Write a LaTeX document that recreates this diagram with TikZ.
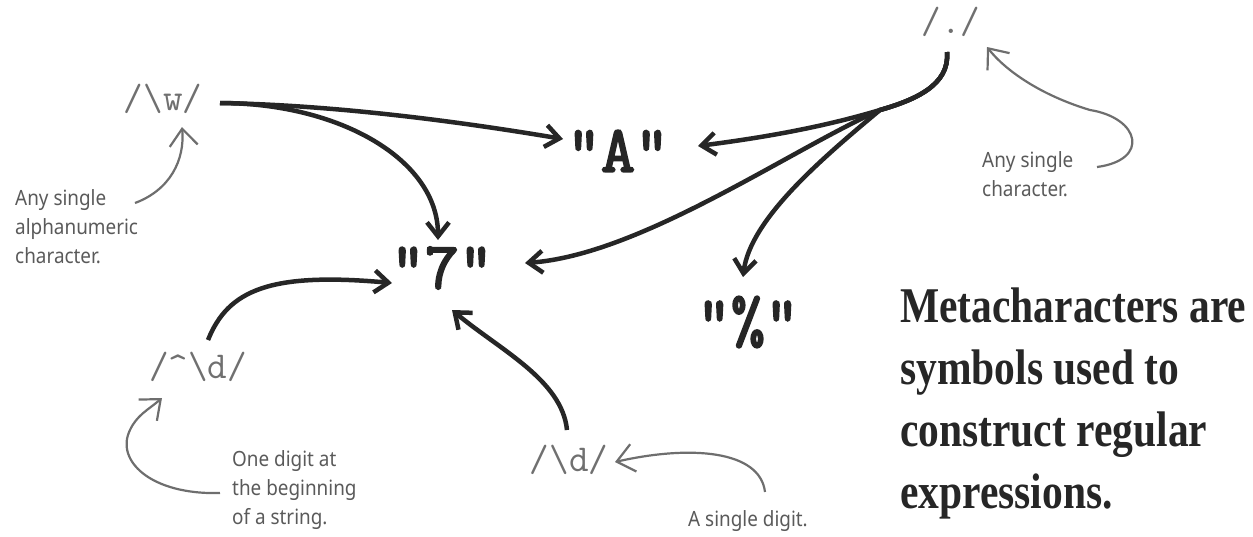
\documentclass[tikz,border=0pt]{standalone}
\usepackage{fontspec}
\usetikzlibrary{arrows.meta,calc}
\newfontfamily\handf{Noto Sans}[FakeStretch=0.9]
\newfontfamily\metaf{Liberation Serif}[FakeStretch=0.83]
\newfontfamily\litf{Latin Modern Mono}[FakeBold=3]
\definecolor{ink}{HTML}{262626}
\definecolor{codegray}{HTML}{707070}
\definecolor{handgray}{HTML}{5A5A5A}
\definecolor{notegray}{HTML}{6E6E6E}
\tikzset{
  code/.style={inner sep=0pt, text=codegray, font=\ttfamily\fontsize{38}{42}\selectfont},
  lit/.style={inner sep=0pt, text=ink, font=\litf\fontsize{66}{70}\selectfont},
  note/.style={inner sep=0pt, text=handgray, align=left, anchor=north west, font=\handf\fontsize{21}{29}\selectfont},
  metatext/.style={inner sep=0pt, text=ink, align=left, anchor=north west, font=\metaf\bfseries\fontsize{50}{62}\selectfont},
  link/.style={draw=ink, line width=4.5pt, -{Straight Barb[length=14pt,width=22pt]}},
  pointer/.style={draw=notegray, line width=2.2pt, -{Straight Barb[length=17pt,width=28pt]}},
}
\begin{document}
\begin{tikzpicture}[x=1pt,y=-1pt]
\useasboundingbox (0,0) rectangle (1253,536);

% regex nodes
\node[code] (w)   at (163,99)  {/\textbackslash w/};
\node[code] (dot) at (951,22)  {/./};
\node[code] (cd)  at (198,367) {/\textasciicircum\textbackslash d/};
\node[code] (d)   at (569,460) {/\textbackslash d/};

% matched strings
\node[lit] (A)     at (618,151) {"A"};
\node[lit] (seven) at (442,268) {"7"};
\node[lit] (pct)   at (748,322) {"\%"};

% notes
\node[note] (nw)   at (15,189)  {Any single\\alphanumeric\\character.};
\node[note] (ndot) at (982,151) {Any single\\character.};
\node[note] (ncd)  at (232,450) {One digit at\\the beginning\\of a string.};
\node[note] (nd)   at (688,510) {A single digit.};

\node[metatext] (meta) at (900,288) {Metacharacters are\\symbols used to\\construct regular\\expressions.};

% connectors: /\w/
\draw[link] ($(w)+(57,4)$) .. controls (330,105) and (450,120) .. ($(A)+(-55,-12)$);
\draw[link] ($(w)+(57,4)$) .. controls (340,103) and (438,160) .. ($(seven)+(-4,-28)$);
% connectors: /./
\draw[link] ($(dot)+(-4,30)$) .. controls (950,85) and (915,100) .. (880,110)
            .. controls (820,128) and (760,138) .. ($(A)+(80,-5)$);
\draw[link] ($(dot)+(-4,30)$) .. controls (950,85) and (915,100) .. (880,110)
            .. controls (790,150) and (640,255) .. ($(seven)+(83,-5)$);
\draw[link] ($(dot)+(-4,30)$) .. controls (950,85) and (915,100) .. (880,110)
            .. controls (820,160) and (750,220) .. ($(pct)+(-5,-45)$);
% connectors: /^\d/ and /\d/
\draw[link] ($(cd)+(10,-27)$) .. controls (228,290) and (270,272) .. ($(seven)+(-50,15)$);
\draw[link] ($(d)+(-2,-30)$) .. controls (562,380) and (500,350) .. ($(seven)+(10,42)$);

% annotation pointers
\draw[pointer] ($(nw.north west)+(120,14)$) .. controls (170,190) and (185,160) .. ($(w)+(19,28)$);
\draw[pointer] ($(ndot.north west)+(115,16)$) .. controls (1150,160) and (1140,118) .. (1090,110)
               .. controls (1040,95) and (1005,70) .. ($(dot)+(36,25)$);
\draw[pointer] ($(ncd.north west)+(-12,43)$) .. controls (150,495) and (115,460) .. (130,430)
               .. controls (137,415) and (148,410) .. ($(cd)+(-36,31)$);
\draw[pointer] ($(nd.north west)+(77,-18)$) .. controls (760,450) and (690,445) .. ($(d)+(46,2)$);
\end{tikzpicture}
\end{document}
